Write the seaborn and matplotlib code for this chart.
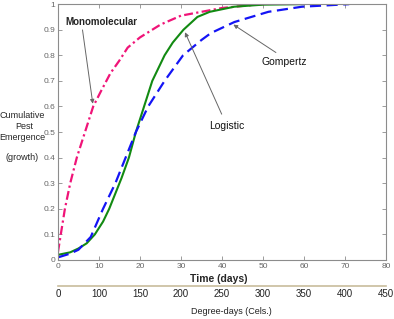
import matplotlib
matplotlib.use("Agg")
import matplotlib.pyplot as plt
import pandas as pd
import seaborn as sns

sns.set_theme(style="ticks")
plt.rcParams["font.family"] = ["Liberation Sans", "DejaVu Sans"]

# values (time in days, cumulative fraction)
mono_t = [0, 0.7, 1.7, 3.0, 4.6, 6.6, 8.6, 10.5, 12.8, 15, 17, 20, 25, 30, 35, 40, 45, 50]
mono_y = [0.03, 0.1, 0.2, 0.3, 0.4, 0.5, 0.6, 0.66, 0.73, 0.78, 0.83, 0.87, 0.92, 0.955, 0.97,
          0.985, 0.993, 1.0]

logi_t = [0, 3, 5, 7, 9, 11, 12.5, 14, 15.5, 17.3, 19, 21, 23, 26, 28, 30.6, 34, 37, 43, 50, 60]
logi_y = [0.02, 0.03, 0.045, 0.065, 0.1, 0.15, 0.2, 0.26, 0.32, 0.4, 0.5, 0.6, 0.7, 0.8, 0.85,
          0.9, 0.95, 0.97, 0.99, 0.998, 1.0]

gomp_t = [0, 3, 5, 8, 11, 14, 16.5, 19, 22, 26, 30.5, 35, 37.3, 43, 51.3, 59.5, 71]
gomp_y = [0.01, 0.025, 0.04, 0.09, 0.2, 0.3, 0.4, 0.5, 0.6, 0.7, 0.8, 0.86, 0.887, 0.93, 0.97,
          0.99, 1.0]

time_ticks = [0, 10, 20, 30, 40, 50, 60, 70, 80]
degree_labels = ["0", "100", "150", "200", "250", "300", "350", "400", "450"]
y_ticks = [0, 0.1, 0.2, 0.3, 0.4, 0.5, 0.6, 0.7, 0.8, 0.9, 1]

PINK = "#f01478"
GREEN = "#128a12"
BLUE = "#1414f5"
FRAME = "#8c8c8c"

fig = plt.figure(figsize=(3.94, 3.19), dpi=100)
ax = fig.add_axes([0.147, 0.185, 0.833, 0.802])

sns.lineplot(x=mono_t, y=mono_y, ax=ax, color=PINK, lw=1.6,
             linestyle=(0, (4, 1.5, 1, 1.5)))
sns.lineplot(x=logi_t, y=logi_y, ax=ax, color=GREEN, lw=1.5)
sns.lineplot(x=gomp_t, y=gomp_y, ax=ax, color=BLUE, lw=1.6,
             linestyle=(0, (5, 2.5)))

ax.set_xlim(0, 80)
ax.set_ylim(0, 1)
ax.set_xticks(time_ticks)
ax.set_yticks(y_ticks)
ax.set_yticklabels(["0", "0.1", "0.2", "0.3", "0.4", "0.5", "0.6", "0.7", "0.8", "0.9", "1"])
ax.tick_params(direction="in", length=3, width=0.6, color=FRAME, labelsize=6,
               labelcolor="#666666", top=True, right=True, pad=2)
for sp in ax.spines.values():
    sp.set_color(FRAME)
    sp.set_linewidth(0.8)

arrow = dict(arrowstyle="-|>", color="#666666", lw=0.7, mutation_scale=6)
ax.text(1.7, 0.93, "Monomolecular", fontsize=7, fontweight="bold", va="center")
ax.annotate("", xy=(8.6, 0.6), xytext=(5.9, 0.91), arrowprops=arrow)
ax.text(36.8, 0.523, "Logistic", fontsize=7.5, va="center", color="#111111")
ax.annotate("", xy=(30.7, 0.9), xytext=(40.2, 0.56), arrowprops=arrow)
ax.text(49.6, 0.773, "Gompertz", fontsize=7.5, va="center", color="#111111")
ax.annotate("", xy=(42.2, 0.926), xytext=(53.7, 0.805), arrowprops=arrow)

# second scale: degree-days
ax2 = fig.add_axes([0.147, 0.103, 0.833, 0.001])
ax2.set_xlim(0, 80)
ax2.set_yticks([])
ax2.set_xticks(time_ticks)
ax2.set_xticklabels(degree_labels)
ax2.tick_params(axis="x", length=0, labelsize=7, labelcolor="#222222", pad=2)
for name, sp in ax2.spines.items():
    sp.set_visible(name == "top")
ax2.spines["top"].set_color("#c8bc9c")
ax2.spines["top"].set_linewidth(1.2)
ax2.patch.set_visible(False)

fig.text(219 / 394, 1 - 279 / 319, "Time (days)", fontsize=7.5, fontweight="bold",
         ha="center", va="center")
fig.text(231 / 394, 1 - 312 / 319, "Degree-days (Cels.)", fontsize=6.5,
         ha="center", va="center", color="#222222")

fig.text(22 / 394, 1 - 115 / 319, "Cumulative", fontsize=6.5, ha="center", va="center")
fig.text(24 / 394, 1 - 126 / 319, "Pest", fontsize=6.5, ha="center", va="center")
fig.text(22 / 394, 1 - 137 / 319, "Emergence", fontsize=6.5, ha="center", va="center")
fig.text(22 / 394, 1 - 158 / 319, "(growth)", fontsize=6.5, ha="center", va="center")

fig.savefig("out.png", dpi=100)
